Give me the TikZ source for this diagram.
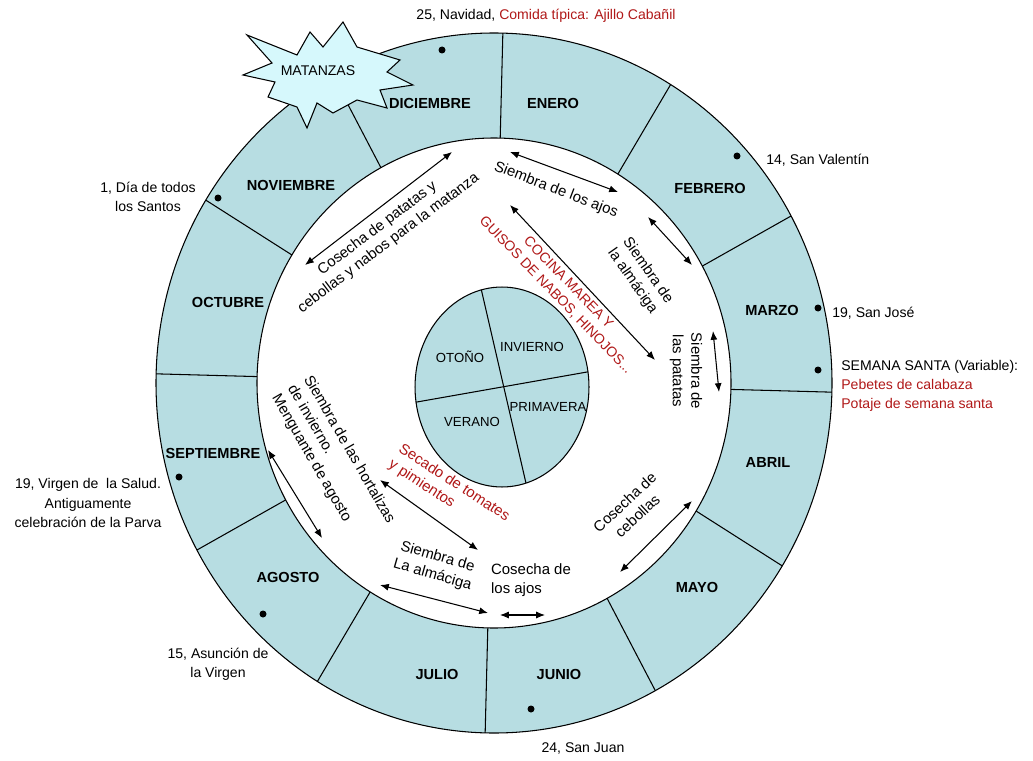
\documentclass[tikz,border=0pt]{standalone}
\usepackage{fontspec}
\setmainfont{Liberation Sans}
\usetikzlibrary{shapes.geometric,arrows.meta}
\definecolor{ring}{RGB}{183,221,226}
\definecolor{starfill}{RGB}{214,248,252}
\definecolor{tipred}{RGB}{176,24,24}

\begin{document}
\begin{tikzpicture}[x=0.02cm,y=-0.02cm,
     month/.style={font=\fontsize{8.3}{10}\selectfont\bfseries},
     note/.style={font=\fontsize{8}{11}\selectfont,align=center,inner sep=0pt},
     task/.style={font=\fontsize{8.5}{10.5}\selectfont,align=center,inner sep=0pt},
     season/.style={font=\fontsize{7.5}{9}\selectfont,inner sep=0pt},
     dblarrow/.style={{Latex[length=5pt,width=4pt]}-{Latex[length=5pt,width=4pt]},line width=0.6pt}
     ]
\useasboundingbox (0,0) rectangle (1033,760);

%Centre and radii of the ring (in pixels of the page)
\def \cx{494}
\def \cy{383}
\def \rxo{338}
\def \ryo{350}
\def \rxi{237}
\def \ryi{245}

%Draw the ring
\draw[fill=ring,line width=0.6pt] (\cx,\cy) ellipse [x radius=\rxo, y radius=\ryo];
\draw[fill=white,line width=0.6pt] (\cx,\cy) ellipse [x radius=\rxi, y radius=\ryi];

%Month dividers
\foreach \a in {0,30,...,330}
   {
\pgfmathsetmacro{\t}{\a+1.5}
\draw[line width=0.6pt] ({\cx+\rxi*cos(\t)},{\cy+\ryi*sin(\t)}) -- ({\cx+\rxo*cos(\t)},{\cy+\ryo*sin(\t)});
   }

%Month names
\foreach \m/\x/\y in {ENERO/553/103,FEBRERO/710/188,MARZO/772/310,ABRIL/768/462,MAYO/697/587,JUNIO/559/674,JULIO/437/674,AGOSTO/288/577,SEPTIEMBRE/213/453,OCTUBRE/228/302,NOVIEMBRE/291/185,DICIEMBRE/430/103}
   \node[month] (\m) at (\x,\y) {\m};

%Dots of the feasts
\foreach \x/\y in {442/50,737/156,818/308,818/370,218/198,179/477,263/614,531/709}
   \fill (\x,\y) circle (3.5);

%Star of the matanzas
\draw[fill=starfill,line width=0.6pt] (247,35) -- (297,55) -- (310,32) -- (323,47) -- (343,22) -- (357,47) -- (400,60) -- (387,72) -- (413,85) -- (380,90) -- (387,108) -- (357,100) -- (333,113) -- (317,103) -- (307,128) -- (297,107) -- (268,97) -- (275,82) -- (243,75) -- (272,63) -- cycle;
\node[note] (matanzas) at (318,71) {MATANZAS};

%Seasons in the centre
\node[draw,ellipse,fill=ring,minimum width=3.48cm,minimum height=4cm,outer sep=0pt,line width=0.6pt] (seasons) at (502,387) {};
\draw[line width=0.6pt] (seasons.102) -- (seasons.284);
\draw[line width=0.6pt] (seasons.190) -- (seasons.10);
\node[season] (otono) at (460,357) {OTOÑO};
\node[season] (invierno) at (532,347) {INVIERNO};
\node[season] (verano) at (472,422) {VERANO};
\node[season] (primavera) at (548,407) {PRIMAVERA};

%Tasks of the year
\node[task,rotate=37] (patatas) at (383,236) {Cosecha de patatas y\\cebollas y nabos para la matanza};
\node[task,rotate=-21] (ajos) at (556,190) {Siembra de los ajos};
\node[task,rotate=-55] (almaciga) at (640,276) {Siembra de\\la almáciga};
\node[task,rotate=-90] (siembrapatatas) at (686,371) {Siembra de\\las patatas};
\node[task,rotate=-46,text=tipred,font=\fontsize{8}{10}\selectfont] (cocina) at (562,289) {COCINA MAREA Y\\GUISOS DE NABOS, HINOJOS...};
\node[task,rotate=43] (cebollas) at (631,509) {Cosecha de\\cebollas};
\node[task,align=left] (cosechaajos) at (531,580) {Cosecha de\\los ajos};
\node[task,rotate=-16] (almaciga2) at (435,566) {Siembra de\\La almáciga};
\node[task,rotate=-33,align=left,text=tipred] (secado) at (449,491) {Secado de tomates\\y pimientos};
\node[task,rotate=-60,align=left] (hortalizas) at (333,459) {Siembra de las hortalizas\\de invierno.\\Menguante de agosto};

%Double arrows
\foreach [count=\i] \ax/\ay/\bx/\by in {305/265/452/152,510/152/618/192,648/217/692/265,510/205/655/360,713/331/719/392,692/501/620/572,500/615/545/615,380/585/488/613,380/480/478/550,268/450/322/538}
   {
\coordinate (s\i) at (\ax,\ay);
\coordinate (e\i) at (\bx,\by);
\draw[dblarrow] (s\i) -- (e\i);
   }

%Feasts round the ring
\node[note] (navidad) at (546,16) {25, Navidad, \textcolor{tipred}{Comida típica: Ajillo Cabañil}};
\node[note,anchor=west] (valentin) at (766,160) {14, San Valentín};
\node[note,anchor=west] (jose) at (832,313) {19, San José};
\node[note,anchor=west,align=left] (semana) at (841,386) {SEMANA SANTA (Variable):\\\textcolor{tipred}{Pebetes de calabaza}\\\textcolor{tipred}{Potaje de semana santa}};
\node[note] (santos) at (148,197) {1, Día de todos\\los Santos};
\node[note] (salud) at (88,503) {19, Virgen de~ la Salud.\\Antiguamente\\celebración de la Parva};
\node[note] (asuncion) at (218,664) {15, Asunción de\\la Virgen};
\node[note] (juan) at (583,748) {24, San Juan};
\end{tikzpicture}
\end{document}
